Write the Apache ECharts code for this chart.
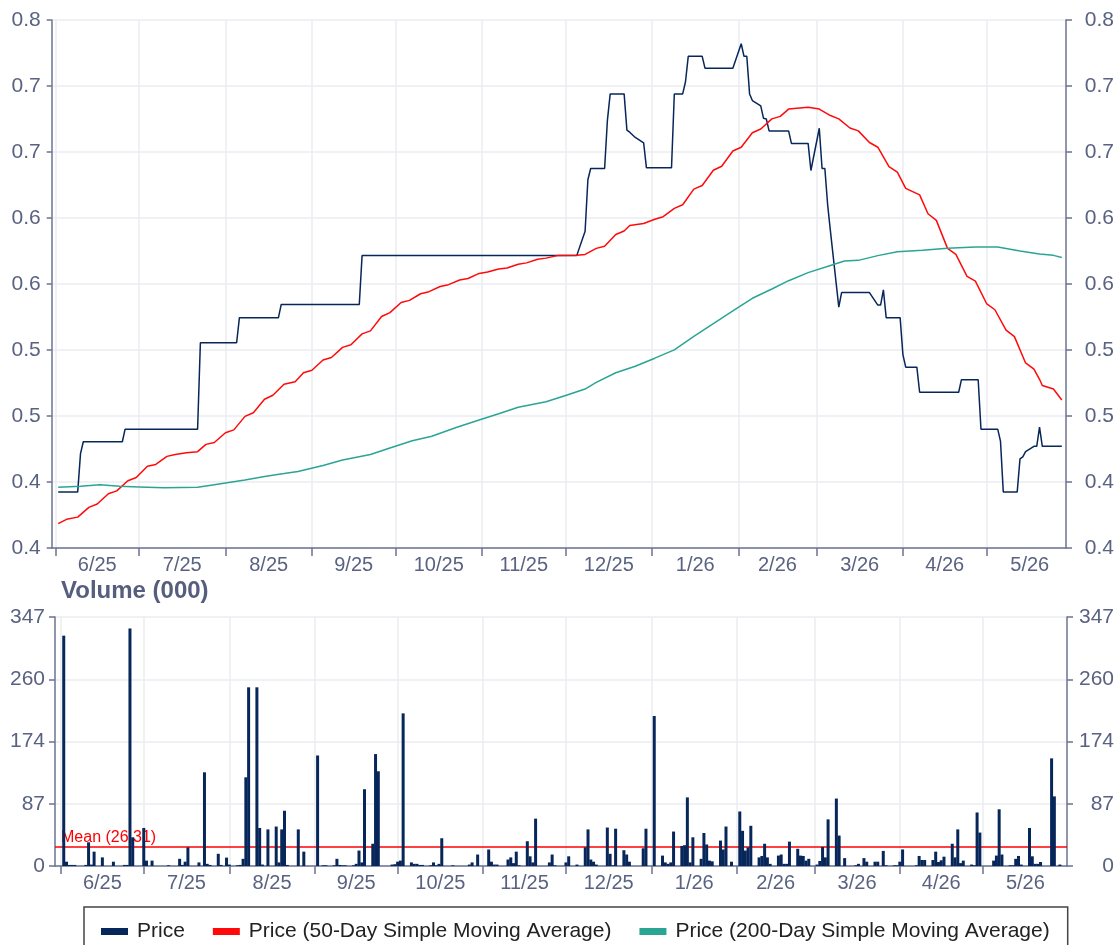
<!DOCTYPE html>
<html>
<head>
<meta charset="utf-8">
<script src="https://cdn.jsdelivr.net/npm/echarts@6/dist/echarts.min.js"></script>
<style>
html,body{margin:0;padding:0;background:#ffffff;}
#chart{width:1117px;height:945px;}
</style>
</head>
<body>
<div id="chart"></div>
<script>
// ---------- DATA ----------
const monthLabels = ['6/25','7/25','8/25','9/25','10/25','11/25','12/25','1/26','2/26','3/26','4/26','5/26'];
const monthStarts = ['2025-06-01','2025-07-01','2025-08-01','2025-09-01','2025-10-01','2025-11-01','2025-12-01',
  '2026-01-01','2026-02-01','2026-03-01','2026-04-01','2026-05-01','2026-06-01'];
const priceTickLabels = ['0.4','0.4','0.5','0.5','0.6','0.6','0.7','0.7','0.8']; // 0.35 .. 0.75 step 0.05
const volumeTickLabels = ['0','87','174','260','347'];
const volumeMean = 26.31;

const pricePoints = [
  ['2025-06-02',0.3925],['2025-06-09',0.3925],['2025-06-10',0.4215],['2025-06-11',0.4305],['2025-06-25',0.4305],
  ['2025-06-26',0.44],['2025-07-22',0.44],['2025-07-23',0.5055],['2025-08-05',0.5055],['2025-08-06',0.5245],
  ['2025-08-20',0.5245],['2025-08-21',0.5345],['2025-09-18',0.5345],['2025-09-19',0.5715],['2025-12-05',0.5715],
  ['2025-12-08',0.59],['2025-12-09',0.629],['2025-12-10',0.6375],['2025-12-15',0.6375],['2025-12-16',0.674],
  ['2025-12-17',0.694],['2025-12-22',0.694],['2025-12-23',0.6665],['2025-12-24',0.665],['2025-12-26',0.661],
  ['2025-12-29',0.657],['2025-12-30',0.638],['2026-01-08',0.638],['2026-01-09',0.694],['2026-01-12',0.694],
  ['2026-01-13',0.703],['2026-01-14',0.7225],['2026-01-19',0.7225],['2026-01-20',0.7135],['2026-01-30',0.7135],
  ['2026-02-02',0.732],['2026-02-03',0.7225],['2026-02-04',0.7225],['2026-02-05',0.694],['2026-02-06',0.689],
  ['2026-02-09',0.685],['2026-02-10',0.6755],['2026-02-11',0.675],['2026-02-12',0.666],['2026-02-19',0.666],
  ['2026-02-20',0.6565],['2026-02-26',0.6565],['2026-02-27',0.636],['2026-03-02',0.668],['2026-03-03',0.6375],
  ['2026-03-04',0.6375],['2026-03-05',0.61],['2026-03-06',0.59],['2026-03-09',0.5325],['2026-03-10',0.5435],
  ['2026-03-20',0.5435],['2026-03-23',0.534],['2026-03-24',0.534],['2026-03-25',0.5455],['2026-03-26',0.5245],
  ['2026-03-31',0.5245],['2026-04-01',0.4965],['2026-04-02',0.487],['2026-04-06',0.487],['2026-04-07',0.468],
  ['2026-04-21',0.468],['2026-04-22',0.4775],['2026-04-28',0.4775],['2026-04-29',0.44],['2026-05-05',0.44],
  ['2026-05-06',0.431],['2026-05-07',0.3925],['2026-05-12',0.3925],['2026-05-13',0.4175],['2026-05-14',0.419],
  ['2026-05-15',0.423],['2026-05-18',0.427],['2026-05-19',0.427],['2026-05-20',0.4415],['2026-05-21',0.427],
  ['2026-05-28',0.427]
];

const sma50Points = [
  ['2025-06-02',0.3685],['2025-06-05',0.3717],['2025-06-09',0.3734],['2025-06-13',0.3808],['2025-06-16',0.3833],
  ['2025-06-20',0.3911],['2025-06-23',0.3933],['2025-06-27',0.401],['2025-06-30',0.4034],['2025-07-04',0.412],
  ['2025-07-07',0.4133],['2025-07-11',0.4194],['2025-07-14',0.4208],['2025-07-18',0.4222],['2025-07-22',0.423],
  ['2025-07-25',0.4285],['2025-07-28',0.4299],['2025-08-01',0.4373],['2025-08-04',0.4395],['2025-08-08',0.4497],
  ['2025-08-11',0.4525],['2025-08-15',0.4627],['2025-08-18',0.4657],['2025-08-22',0.474],['2025-08-26',0.476],
  ['2025-08-29',0.4828],['2025-09-01',0.4847],['2025-09-05',0.4924],['2025-09-08',0.4943],['2025-09-12',0.502],
  ['2025-09-15',0.504],['2025-09-19',0.5122],['2025-09-22',0.5145],['2025-09-26',0.5254],['2025-09-29',0.5283],
  ['2025-10-03',0.536],['2025-10-06',0.5376],['2025-10-10',0.5426],['2025-10-13',0.5442],['2025-10-17',0.5481],
  ['2025-10-20',0.5495],['2025-10-24',0.553],['2025-10-27',0.5542],['2025-10-31',0.558],['2025-11-03',0.5591],
  ['2025-11-07',0.5613],['2025-11-10',0.5621],['2025-11-14',0.5649],['2025-11-17',0.566],['2025-11-21',0.5687],
  ['2025-11-24',0.5696],['2025-11-28',0.5715],['2025-12-05',0.5717],['2025-12-08',0.5724],['2025-12-12',0.577],
  ['2025-12-15',0.5786],['2025-12-19',0.5875],['2025-12-22',0.5902],['2025-12-24',0.5943],['2025-12-29',0.5958],
  ['2026-01-02',0.599],['2026-01-05',0.601],['2026-01-09',0.6073],['2026-01-12',0.61],['2026-01-16',0.6219],
  ['2026-01-19',0.6246],['2026-01-23',0.6362],['2026-01-26',0.6392],['2026-01-30',0.6508],['2026-02-02',0.6536],
  ['2026-02-06',0.6646],['2026-02-09',0.6674],['2026-02-13',0.6751],['2026-02-16',0.677],['2026-02-19',0.6825],
  ['2026-02-26',0.6839],['2026-03-02',0.6825],['2026-03-06',0.6776],['2026-03-09',0.6751],['2026-03-13',0.6682],
  ['2026-03-16',0.666],['2026-03-20',0.6572],['2026-03-23',0.6536],['2026-03-27',0.639],['2026-03-30',0.6348],
  ['2026-04-02',0.6224],['2026-04-07',0.6175],['2026-04-10',0.6032],['2026-04-13',0.5982],['2026-04-17',0.577],
  ['2026-04-20',0.5724],['2026-04-24',0.5558],['2026-04-27',0.5522],['2026-05-01',0.5352],['2026-05-04',0.5305],
  ['2026-05-08',0.515],['2026-05-11',0.5101],['2026-05-15',0.4902],['2026-05-18',0.4855],['2026-05-20',0.4778],
  ['2026-05-21',0.4731],['2026-05-25',0.4704],['2026-05-28',0.4621]
];

const sma200Points = [
  ['2025-06-02',0.396],['2025-06-10',0.3968],['2025-06-17',0.398],['2025-06-24',0.3968],['2025-07-01',0.3963],
  ['2025-07-10',0.3957],['2025-07-22',0.396],['2025-07-28',0.398],['2025-08-01',0.3993],['2025-08-08',0.4015],
  ['2025-08-15',0.4042],['2025-08-22',0.4064],['2025-08-27',0.408],['2025-09-05',0.4125],['2025-09-12',0.4167],
  ['2025-09-22',0.4208],['2025-09-29',0.4258],['2025-10-07',0.4313],['2025-10-14',0.4346],['2025-10-23',0.4415],
  ['2025-10-31',0.447],['2025-11-07',0.4517],['2025-11-14',0.4566],['2025-11-24',0.4608],['2025-12-01',0.4655],
  ['2025-12-08',0.4704],['2025-12-12',0.4755],['2025-12-19',0.4828],['2025-12-26',0.4877],['2026-01-02',0.4938],
  ['2026-01-09',0.5001],['2026-01-16',0.5103],['2026-01-23',0.52],['2026-01-30',0.5296],['2026-02-06',0.5392],
  ['2026-02-13',0.5462],['2026-02-19',0.5525],['2026-02-26',0.5586],['2026-03-06',0.564],['2026-03-11',0.5674],
  ['2026-03-16',0.5679],['2026-03-23',0.5715],['2026-03-30',0.5745],['2026-04-08',0.5756],['2026-04-17',0.577],
  ['2026-04-27',0.578],['2026-05-05',0.578],['2026-05-13',0.575],['2026-05-20',0.5728],['2026-05-25',0.5717],
  ['2026-05-28',0.5701]
];

const volumePoints = [
  ['2025-06-02',321],['2025-06-03',6],['2025-06-04',1.5],['2025-06-05',1.5],['2025-06-06',1.5],['2025-06-10',1.5],
  ['2025-06-11',33],['2025-06-12',2],['2025-06-13',20],['2025-06-16',12],['2025-06-20',6],['2025-06-24',1.5],
  ['2025-06-25',1.5],['2025-06-26',331],['2025-06-27',40],['2025-07-01',53],['2025-07-02',7.5],['2025-07-04',7.5],
  ['2025-07-10',1],['2025-07-14',10],['2025-07-15',1.5],['2025-07-16',6],['2025-07-17',26],['2025-07-21',5],
  ['2025-07-23',130.6],['2025-07-24',3],['2025-07-25',1.5],['2025-07-28',17],['2025-07-29',1.5],['2025-07-31',11.7],
  ['2025-08-01',2],['2025-08-04',1],['2025-08-05',1.5],['2025-08-06',10],['2025-08-07',123.6],['2025-08-08',249],
  ['2025-08-11',249],['2025-08-12',53],['2025-08-13',2],['2025-08-15',51],['2025-08-18',55],['2025-08-19',5],
  ['2025-08-20',51],['2025-08-21',77],['2025-08-22',1.5],['2025-08-26',51],['2025-08-28',20],['2025-09-02',154],
  ['2025-09-04',1],['2025-09-05',1],['2025-09-08',1],['2025-09-09',10],['2025-09-10',1.5],['2025-09-11',1],
  ['2025-09-12',1],['2025-09-15',1],['2025-09-16',3],['2025-09-17',21.5],['2025-09-18',5],['2025-09-19',107],
  ['2025-09-22',31],['2025-09-23',156],['2025-09-24',132],['2025-09-29',2],['2025-09-30',2.5],['2025-10-01',6],
  ['2025-10-02',7.5],['2025-10-03',212.7],['2025-10-06',5],['2025-10-07',3],['2025-10-08',3],['2025-10-09',1.5],
  ['2025-10-10',1.5],['2025-10-13',1],['2025-10-14',5],['2025-10-15',1],['2025-10-16',3],['2025-10-17',38.7],
  ['2025-10-21',1],['2025-10-27',2],['2025-10-28',5],['2025-10-30',16],['2025-11-03',23],['2025-11-04',6],
  ['2025-11-05',2],['2025-11-06',2],['2025-11-10',9],['2025-11-11',12],['2025-11-12',4],['2025-11-13',20],
  ['2025-11-14',1],['2025-11-17',34.5],['2025-11-18',13.5],['2025-11-19',5],['2025-11-20',66],['2025-11-25',5],
  ['2025-11-26',16],['2025-11-27',1],['2025-12-01',5],['2025-12-02',13.5],['2025-12-05',2],['2025-12-08',26],
  ['2025-12-09',51],['2025-12-10',9],['2025-12-11',6],['2025-12-12',2],['2025-12-16',53.6],['2025-12-17',17],
  ['2025-12-18',1],['2025-12-19',52],['2025-12-22',22],['2025-12-23',16],['2025-12-24',6],['2025-12-29',24.7],
  ['2025-12-30',52],['2026-01-02',209],['2026-01-05',14.5],['2026-01-06',5],['2026-01-07',3],['2026-01-08',5],
  ['2026-01-09',48],['2026-01-12',28],['2026-01-13',29],['2026-01-14',95.6],['2026-01-15',5],['2026-01-16',40],
  ['2026-01-19',10],['2026-01-20',46],['2026-01-21',30],['2026-01-22',7.5],['2026-01-23',6.5],['2026-01-26',35.4],
  ['2026-01-27',23],['2026-01-28',55],['2026-01-30',6],['2026-02-02',76],['2026-02-03',49],['2026-02-04',21.5],
  ['2026-02-05',26],['2026-02-06',56],['2026-02-09',12],['2026-02-10',14],['2026-02-11',31],['2026-02-12',12],
  ['2026-02-13',3],['2026-02-16',14.5],['2026-02-17',16],['2026-02-18',3],['2026-02-19',3],['2026-02-20',34],
  ['2026-02-23',24],['2026-02-24',14.5],['2026-02-25',14],['2026-02-26',7.5],['2026-02-27',10],['2026-03-02',2],
  ['2026-03-03',7],['2026-03-04',26.6],['2026-03-05',12],['2026-03-06',65],['2026-03-09',94],['2026-03-10',42.4],
  ['2026-03-12',11],['2026-03-16',1],['2026-03-17',3],['2026-03-19',11],['2026-03-20',6],['2026-03-23',6],
  ['2026-03-24',6],['2026-03-26',21],['2026-03-27',1],['2026-03-30',1],['2026-03-31',1],['2026-04-01',6],
  ['2026-04-02',23],['2026-04-07',1],['2026-04-08',14],['2026-04-09',8.4],['2026-04-10',8.4],['2026-04-13',8.4],
  ['2026-04-14',20],['2026-04-15',5.6],['2026-04-16',8],['2026-04-17',13],['2026-04-20',31],['2026-04-21',12],
  ['2026-04-22',51],['2026-04-23',4],['2026-04-24',7.5],['2026-04-27',2],['2026-04-28',1],['2026-04-29',74.6],
  ['2026-04-30',46.6],['2026-05-05',7.5],['2026-05-06',14.5],['2026-05-07',79],['2026-05-08',16],['2026-05-11',1],
  ['2026-05-12',1],['2026-05-13',10],['2026-05-14',14],['2026-05-15',2],['2026-05-18',53],['2026-05-19',13.5],
  ['2026-05-20',3],['2026-05-21',3],['2026-05-22',5.6],['2026-05-26',150],['2026-05-27',97],['2026-05-29',2]
];

// ---------- HELPERS ----------
function t(s){ const p = s.split('-').map(Number); return Date.UTC(p[0], p[1]-1, p[2]); }
const HOUR = 3600000;
const tickVals = monthStarts.map(t);
const labelVals = monthLabels.map((_, i) => (tickVals[i] + tickVals[i+1]) / 2);
function monthLabel(v){
  let best = 0, bd = Infinity;
  labelVals.forEach((lv, i) => { const d = Math.abs(lv - v); if (d < bd) { bd = d; best = i; } });
  return monthLabels[best];
}
const toXY = arr => arr.map(p => [t(p[0]), p[1]]);

const FONT = '"Liberation Sans", Arial, Helvetica, sans-serif';
const AXIS_COLOR = '#6c7391';
const LABEL_COLOR = '#5a6282';
const GRID_COLOR = '#eaecf2';
const NAVY = '#072659';
const RED = '#ff0a0a';
const TEAL = '#2aa594';
const AXIS_FONT = 21;

function xAxisCfg(gridIndex, min, max){
  return {
    type: 'value', gridIndex, min, max, scale: true,
    axisLine: { show: true, onZero: false, lineStyle: { color: AXIS_COLOR, width: 1.5 } },
    axisTick: { show: true, customValues: tickVals, length: 8, lineStyle: { color: AXIS_COLOR, width: 1.5 } },
    axisLabel: { customValues: labelVals, formatter: v => monthLabel(v), color: LABEL_COLOR, fontSize: 20, fontFamily: FONT, margin: 7 },
    splitLine: { show: true, lineStyle: { color: GRID_COLOR, width: 1.5 } }
  };
}

const option = {
  animation: false,
  backgroundColor: '#ffffff',
  textStyle: { fontFamily: FONT },
  title: {
    text: 'Volume (000)', left: 56, top: 574,
    textStyle: { fontSize: 24, fontWeight: 'bold', color: '#565e7d', fontFamily: FONT }
  },
  legend: {
    data: ['Price', 'Price (50-Day Simple Moving Average)', 'Price (200-Day Simple Moving Average)'],
    left: 84, top: 907,
    padding: [14, 18, 30, 17],
    itemGap: 28, itemWidth: 27, itemHeight: 7, icon: 'rect',
    borderColor: '#444444', borderWidth: 1.5,
    textStyle: { fontSize: 21, color: '#222222', fontFamily: FONT, padding: [0, 0, 0, 4] }
  },
  grid: [
    { left: 51.7, right: 45, top: 20, height: 528 },
    { left: 55, right: 44.7, top: 617, height: 249 }
  ],
  xAxis: [
    xAxisCfg(0, t('2025-05-30') + 16 * HOUR, t('2026-05-29') + 12 * HOUR),
    xAxisCfg(1, t('2025-05-29') + 20 * HOUR, t('2026-05-31') + 14 * HOUR)
  ],
  yAxis: [
    {
      type: 'value', gridIndex: 0, position: 'left', min: 0.35, max: 0.75, interval: 0.05,
      axisLine: { show: true, lineStyle: { color: AXIS_COLOR, width: 1.5 } },
      axisTick: { show: true, length: 5, lineStyle: { color: AXIS_COLOR, width: 1.5 } },
      axisLabel: { formatter: v => priceTickLabels[Math.round((v - 0.35) / 0.05)], color: LABEL_COLOR, fontSize: AXIS_FONT, fontFamily: FONT, margin: 11 },
      splitLine: { show: true, lineStyle: { color: GRID_COLOR, width: 1.5 } }
    },
    {
      type: 'value', gridIndex: 0, position: 'right', min: 0.35, max: 0.75, interval: 0.05,
      axisLine: { show: true, lineStyle: { color: AXIS_COLOR, width: 1.5 } },
      axisTick: { show: true, length: 6, lineStyle: { color: AXIS_COLOR, width: 1.5 } },
      axisLabel: { formatter: v => priceTickLabels[Math.round((v - 0.35) / 0.05)], color: LABEL_COLOR, fontSize: AXIS_FONT, fontFamily: FONT, margin: 48, align: 'right' },
      splitLine: { show: false }
    },
    {
      type: 'value', gridIndex: 1, position: 'left', min: 0, max: 347, interval: 86.75,
      axisLine: { show: true, lineStyle: { color: AXIS_COLOR, width: 1.5 } },
      axisTick: { show: true, length: 6, lineStyle: { color: AXIS_COLOR, width: 1.5 } },
      axisLabel: { formatter: v => volumeTickLabels[Math.round(v / 86.75)], color: LABEL_COLOR, fontSize: AXIS_FONT, fontFamily: FONT, margin: 10 },
      splitLine: { show: true, lineStyle: { color: GRID_COLOR, width: 1.5 } }
    },
    {
      type: 'value', gridIndex: 1, position: 'right', min: 0, max: 347, interval: 86.75,
      axisLine: { show: true, lineStyle: { color: AXIS_COLOR, width: 1.5 } },
      axisTick: { show: true, length: 6, lineStyle: { color: AXIS_COLOR, width: 1.5 } },
      axisLabel: { formatter: v => volumeTickLabels[Math.round(v / 86.75)], color: LABEL_COLOR, fontSize: AXIS_FONT, fontFamily: FONT, margin: 47, align: 'right' },
      splitLine: { show: false }
    }
  ],
  series: [
    {
      name: 'Price', type: 'line', xAxisIndex: 0, yAxisIndex: 0,
      data: toXY(pricePoints), showSymbol: false, symbol: 'none',
      lineStyle: { color: NAVY, width: 1.5 }, itemStyle: { color: NAVY }
    },
    {
      name: 'Price (50-Day Simple Moving Average)', type: 'line', xAxisIndex: 0, yAxisIndex: 0,
      data: toXY(sma50Points), showSymbol: false, symbol: 'none',
      lineStyle: { color: RED, width: 1.5 }, itemStyle: { color: RED }
    },
    {
      name: 'Price (200-Day Simple Moving Average)', type: 'line', xAxisIndex: 0, yAxisIndex: 0,
      data: toXY(sma200Points), showSymbol: false, symbol: 'none',
      lineStyle: { color: TEAL, width: 1.5 }, itemStyle: { color: TEAL }
    },
    {
      name: 'Volume', type: 'bar', xAxisIndex: 1, yAxisIndex: 2,
      data: toXY(volumePoints), barWidth: 3,
      itemStyle: { color: NAVY },
      markLine: {
        z: 1, silent: true, symbol: ['none', 'none'],
        lineStyle: { color: '#ff0000', width: 1.5, type: 'solid' },
        label: { show: true, position: 'insideStartTop', formatter: 'Mean (' + volumeMean.toFixed(2) + ')', color: '#ff0000', fontSize: 16, fontFamily: FONT, distance: [6, 2] },
        data: [{ yAxis: volumeMean }]
      }
    }
  ]
};

const chart = echarts.init(document.getElementById('chart'), null, { renderer: 'canvas' });
chart.setOption(option);
</script>
</body>
</html>
